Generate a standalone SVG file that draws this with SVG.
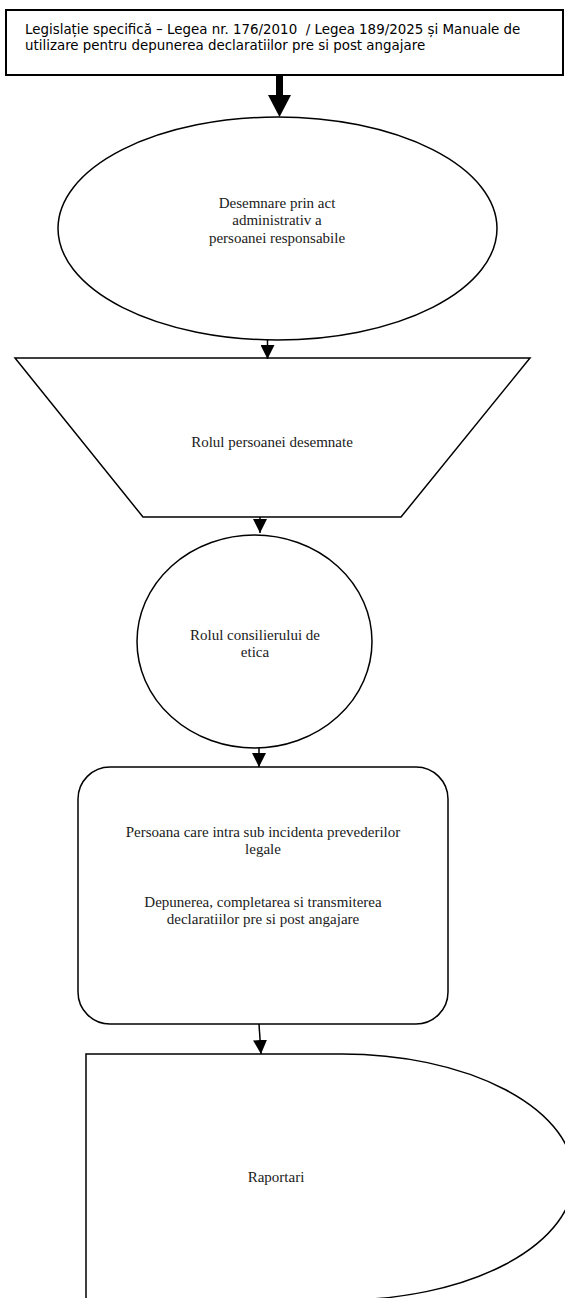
<svg xmlns="http://www.w3.org/2000/svg" width="565" height="1298" viewBox="0 0 565 1298">
<style>
.shape{fill:#ffffff;stroke:#000000;stroke-width:1.5}
.lbl{font-family:"Liberation Serif","Times New Roman",serif;font-size:15px;fill:#1a1a1a;text-anchor:middle}
.top{font-family:"DejaVu Sans",Tahoma,sans-serif;font-size:13.4px;fill:#000000}
.conn{stroke:#000000;stroke-width:1.5;fill:none;marker-end:url(#ah)}
</style>
<defs>
<marker id="ah" markerUnits="userSpaceOnUse" markerWidth="14" markerHeight="14" viewBox="0 0 14 14" refX="14" refY="7" orient="auto">
<path d="M0,0 L14,7 L0,14 Z" fill="#000000"/>
</marker>
</defs>
<rect width="565" height="1298" fill="#ffffff"/>
<g id="n1">
<rect class="shape" x="6" y="10" width="557" height="65" style="stroke-width:2"/>
<text class="top" x="25" y="34">Legislație specifică – Legea nr. 176/2010&#160; / Legea 189/2025 și Manuale de</text>
<text class="top" x="25" y="50">utilizare pentru depunerea declaratiilor pre si post angajare</text>
</g>
<g id="n2">
<ellipse class="shape" cx="277.5" cy="228.5" rx="219.5" ry="111.5"/>
<text class="lbl" x="277" y="208">Desemnare prin act</text>
<text class="lbl" x="277" y="225">administrativ a</text>
<text class="lbl" x="277" y="243">persoanei responsabile</text>
</g>
<g id="n3">
<polygon class="shape" points="15,358 530,358 401,517 143,517"/>
<text class="lbl" x="272" y="447">Rolul persoanei desemnate</text>
</g>
<g id="n4">
<ellipse class="shape" cx="254.5" cy="641.5" rx="117.5" ry="106.5"/>
<text class="lbl" x="255" y="640">Rolul consilierului de</text>
<text class="lbl" x="255" y="657">etica</text>
</g>
<g id="n5">
<rect class="shape" x="78" y="767" width="370" height="257" rx="32" ry="32"/>
<text class="lbl" x="263" y="837">Persoana care intra sub incidenta prevederilor</text>
<text class="lbl" x="263" y="854">legale</text>
<text class="lbl" x="263" y="907">Depunerea, completarea si transmiterea</text>
<text class="lbl" x="263" y="924">declaratiilor pre si post angajare</text>
</g>
<g id="n6">
<path class="shape" d="M86,1302 L86,1054 L342,1054 A232,123 0 0 1 342,1300 L86,1302"/>
<text class="lbl" x="276" y="1182">Raportari</text>
</g>
<g id="connectors">
<polygon points="276,75 283,75 283,95 291,95 279.5,117 268,95 276,95" fill="#000000"/>
<line class="conn" x1="267.5" y1="340" x2="267.5" y2="359"/>
<line class="conn" x1="260" y1="517" x2="260" y2="533"/>
<line class="conn" x1="259" y1="748" x2="259" y2="767"/>
<line class="conn" x1="259" y1="1024" x2="261" y2="1054"/>
</g>
</svg>
